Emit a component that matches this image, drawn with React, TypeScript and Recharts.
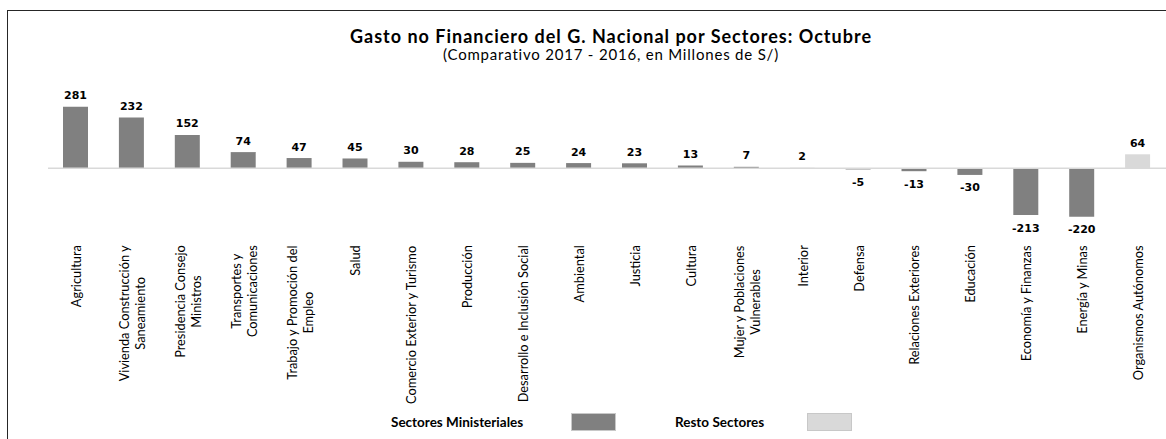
import { BarChart, Bar, XAxis, YAxis, Cell, LabelList, ReferenceLine } from "recharts";

const categories = [
  "Agricultura",
  "Vivienda Construcción y\nSaneamiento",
  "Presidencia Consejo\nMinistros",
  "Transportes y\nComunicaciones",
  "Trabajo y Promoción del\nEmpleo",
  "Salud",
  "Comercio Exterior y Turismo",
  "Producción",
  "Desarrollo e Inclusión Social",
  "Ambiental",
  "Justicia",
  "Cultura",
  "Mujer y Poblaciones\nVulnerables",
  "Interior",
  "Defensa",
  "Relaciones Exteriores",
  "Educación",
  "Economía y Finanzas",
  "Energía y Minas",
  "Organismos Autónomos",
];

const values = [281, 232, 152, 74, 47, 45, 30, 28, 25, 24, 23, 13, 7, 2, -5, -13, -30, -213, -220, 64];

const groups = [
  "Sectores Ministeriales", "Sectores Ministeriales", "Sectores Ministeriales", "Sectores Ministeriales",
  "Sectores Ministeriales", "Sectores Ministeriales", "Sectores Ministeriales", "Sectores Ministeriales",
  "Sectores Ministeriales", "Sectores Ministeriales", "Sectores Ministeriales", "Sectores Ministeriales",
  "Sectores Ministeriales", "Sectores Ministeriales", "Sectores Ministeriales", "Sectores Ministeriales",
  "Sectores Ministeriales", "Sectores Ministeriales", "Sectores Ministeriales", "Resto Sectores",
];

const legendNames = ["Sectores Ministeriales", "Resto Sectores"];
const colors: Record<string, string> = {
  "Sectores Ministeriales": "#808080",
  "Resto Sectores": "#d9d9d9",
};

const data = categories.map((c, i) => ({ name: c, value: values[i], group: groups[i] }));

const labelFont = "Lato, 'Open Sans', sans-serif";
const labelSize = 12.8;

let ctx: CanvasRenderingContext2D | null = null;
function textWidth(s: string) {
  if (!ctx) ctx = document.createElement("canvas").getContext("2d");
  if (!ctx) return s.length * 6;
  ctx.font = `${labelSize}px Lato`;
  return ctx.measureText(s).width;
}

// rotated category labels, top-aligned block, lines centred on each other
function CategoryTick(props: any) {
  const { x, y, payload } = props;
  const lines = String(payload.value).split("\n");
  const longest = Math.max(...lines.map(textWidth));
  const top = y + 3;
  const cy = top + longest / 2;
  const gap = 16;
  return (
    <g>
      {lines.map((ln, i) => {
        const lx = x + (i - (lines.length - 1) / 2) * gap;
        return (
          <text
            key={i}
            x={lx}
            y={cy}
            transform={`rotate(-90, ${lx}, ${cy})`}
            textAnchor="middle"
            dominantBaseline="central"
            fontFamily={labelFont}
            fontSize={labelSize}
            fill="#000"
          >
            {ln}
          </text>
        );
      })}
    </g>
  );
}

function ValueLabel(props: any) {
  const { x, y, width, height, value } = props;
  const top = Math.min(y, y + height);
  const bottom = Math.max(y, y + height);
  const cx = x + width / 2;
  const ly = value >= 0 ? top - 11 : bottom + 13;
  return (
    <text
      x={cx}
      y={ly}
      textAnchor="middle"
      dominantBaseline="central"
      fontFamily="'DejaVu Sans', Verdana, sans-serif"
      fontWeight="bold"
      fontSize={11}
      fill="#000"
    >
      {value}
    </text>
  );
}

export default function App() {
  return (
    <div style={{ position: "absolute", left: 0, top: 0, width: 1166, height: 439, background: "#fff" }}>
      {/* frame: only top and left edges visible */}
      <div style={{ position: "absolute", left: 7, top: 10, right: 0, bottom: 0, borderTop: "1.5px solid #262626", borderLeft: "1.5px solid #262626" }} />

      <div style={{ position: "absolute", left: 0, top: 25, width: 1222, textAlign: "center", fontFamily: "Lato, sans-serif", fontWeight: "bold", fontSize: 18, letterSpacing: 1, color: "#000" }}>
        Gasto no Financiero del G. Nacional por Sectores: Octubre
      </div>
      <div style={{ position: "absolute", left: 0, top: 45, width: 1222, textAlign: "center", fontFamily: "Lato, sans-serif", fontSize: 15, letterSpacing: 0.8, color: "#000" }}>
        (Comparativo 2017 - 2016, en Millones de S/)
      </div>

      <BarChart
        width={1166}
        height={439}
        data={data}
        margin={{ top: 102.5, right: 0, bottom: 14.8, left: 48 }}
        barSize={25}
        style={{ position: "absolute", left: 0, top: 0 }}
      >
        <XAxis dataKey="name" axisLine={false} tickLine={false} interval={0} height={190} tick={<CategoryTick />} />
        <YAxis hide domain={[-300, 300]} />
        <ReferenceLine y={0} stroke="#d9d9d9" strokeWidth={1.5} />
        <Bar dataKey="value" isAnimationActive={false}>
          {data.map((d, i) => (
            <Cell key={i} fill={colors[d.group]} />
          ))}
          <LabelList dataKey="value" content={<ValueLabel />} />
        </Bar>
      </BarChart>

      <div style={{ position: "absolute", top: 413, left: 0, width: 1166, height: 18, fontFamily: "Lato, sans-serif", fontWeight: "bold", fontSize: 13.5 }}>
        {legendNames.map((n, i) => (
          <div key={n}>
            <span style={{ position: "absolute", left: i === 0 ? 391 : 675, top: 0, lineHeight: "18px" }}>{n}</span>
            <span style={{ position: "absolute", left: i === 0 ? 571 : 807, top: 0, width: 45, height: 18, background: colors[n], border: "1px solid #c8c8c8", boxSizing: "border-box" }} />
          </div>
        ))}
      </div>
    </div>
  );
}
